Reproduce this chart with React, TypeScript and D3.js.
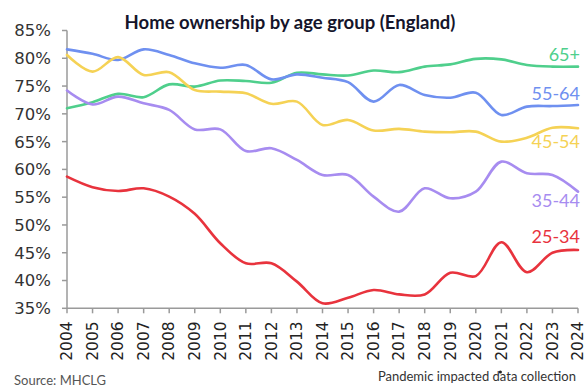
import React from 'react';
import * as d3 from 'd3';

const years = ['2004','2005','2006','2007','2008','2009','2010','2011','2012','2013','2014','2015','2016','2017','2018','2019','2020','2021','2022','2023','2024'];
const yTicks = [35, 40, 45, 50, 55, 60, 65, 70, 75, 80, 85];

const age65plus = [71.0, 72.1, 73.6, 73.0, 75.3, 74.9, 76.0, 75.9, 75.6, 77.4, 77.1, 76.9, 77.8, 77.5, 78.5, 78.9, 79.9, 79.8, 78.8, 78.5, 78.5];
const age55_64 = [81.6, 80.8, 79.7, 81.6, 80.6, 79.1, 78.3, 78.8, 76.2, 77.1, 76.5, 75.7, 72.2, 75.2, 73.4, 72.9, 73.8, 69.8, 71.3, 71.4, 71.6];
const age45_54 = [80.6, 77.6, 80.2, 77.0, 77.5, 74.3, 74.0, 73.7, 71.8, 72.2, 68.0, 68.9, 67.0, 67.3, 66.8, 66.7, 66.8, 65.0, 65.7, 67.5, 67.4];
const age35_44 = [74.2, 71.7, 73.1, 71.9, 70.7, 67.2, 67.2, 63.3, 63.8, 61.7, 59.0, 59.0, 55.1, 52.4, 56.6, 54.8, 56.0, 61.4, 59.3, 59.0, 56.0];
const age25_34 = [58.7, 56.8, 56.1, 56.6, 55.1, 52.0, 46.7, 43.1, 43.1, 39.8, 35.9, 36.9, 38.3, 37.5, 37.5, 41.4, 40.8, 46.9, 41.5, 45.0, 45.5];

const seriesNames = ['65+', '55-64', '45-54', '35-44', '25-34'];
const seriesValues = [age65plus, age55_64, age45_54, age35_44, age25_34];
const seriesColors = ['#4fcf8c', '#6f90f0', '#f5d255', '#a78cf0', '#e8333d'];
const labelY = [61, 100, 148, 207, 243];

const W = 586, H = 387;
const left = 67, right = 578, top = 30.5, bottom = 308.3;

export default function App() {
  const x = d3.scalePoint<string>().domain(years).range([left, right]);
  const y = d3.scaleLinear().domain([35, 85]).range([bottom, top]);
  const line = d3.line<number>()
    .x((_, i) => x(years[i]) as number)
    .y(d => y(d))
    .curve(d3.curveCatmullRom.alpha(0.5));
  const axisColor = '#9a9a9a';
  const tickFont = '"DejaVu Sans", sans-serif';
  return (
    <svg width={W} height={H} style={{ position: 'absolute', left: 0, top: 0, background: '#fff' }}>
      <rect width={W} height={H} fill="#fff" />
      <text x={290} y={29} textAnchor="middle" fontFamily="Lato, sans-serif" fontWeight="bold" fontSize={18.5} fill="#15152b">
        Home ownership by age group (England)
      </text>
      {/* y axis */}
      <line x1={left} x2={left} y1={top} y2={bottom} stroke={axisColor} strokeWidth={1.5} />
      {yTicks.map(t => (
        <g key={t}>
          <line x1={left - 5} x2={left} y1={y(t)} y2={y(t)} stroke={axisColor} strokeWidth={1.5} />
          <text x={51} y={y(t)} dy="0.36em" textAnchor="end" fontFamily={tickFont} fontSize={16.5} fill="#333">{t}%</text>
        </g>
      ))}
      {/* x axis */}
      <line x1={left} x2={right} y1={bottom} y2={bottom} stroke={axisColor} strokeWidth={1.5} />
      {years.map(yr => {
        const px = x(yr) as number;
        return (
          <g key={yr}>
            <line x1={px} x2={px} y1={bottom} y2={bottom + 5} stroke={axisColor} strokeWidth={1.5} />
            <text transform={`translate(${px},${bottom + 13}) rotate(-90)`} dy="0.34em" textAnchor="end" fontFamily={tickFont} fontSize={15.5} fill="#222">{yr}</text>
          </g>
        );
      })}
      <circle cx={(x('2021') as number) - 1} cy={372} r={1.6} fill="#222" />
      {/* lines */}
      {seriesValues.map((vals, i) => (
        <path key={seriesNames[i]} d={line(vals) || ''} fill="none" stroke={seriesColors[i]} strokeWidth={2.6} strokeLinejoin="round" strokeLinecap="round" />
      ))}
      {seriesNames.map((n, i) => (
        <text key={n} x={580} y={labelY[i]} textAnchor="end" fontFamily="Lato, sans-serif" fontSize={18} fill={seriesColors[i]}>{n}</text>
      ))}
      <text x={14} y={385} fontFamily="Lato, sans-serif" fontSize={13} fill="#555">Source: MHCLG</text>
      <text x={576} y={381} textAnchor="end" fontFamily="Lato, sans-serif" fontSize={13} fill="#333">Pandemic impacted data collection</text>
    </svg>
  );
}
